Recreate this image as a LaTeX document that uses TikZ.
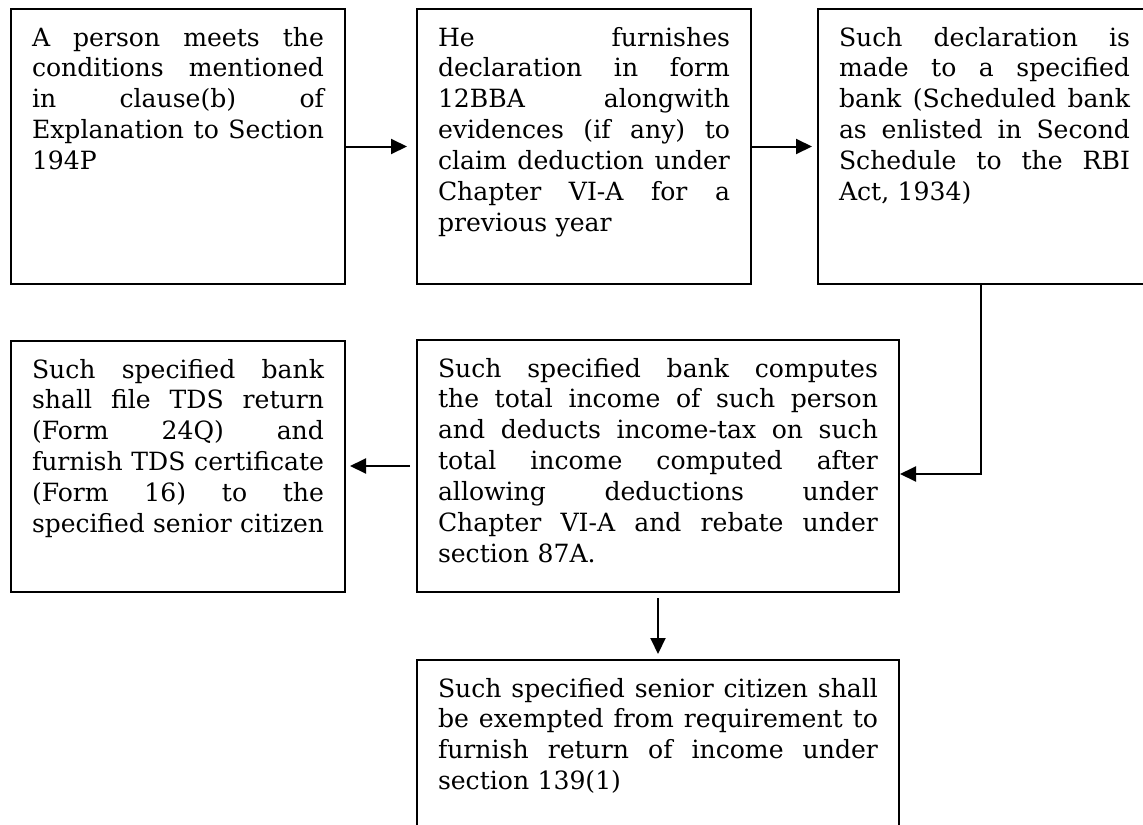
\documentclass[tikz,border=0pt]{standalone}
\usepackage{fontspec}
\setmainfont{DejaVu Serif}
\usepackage{graphicx}
\usetikzlibrary{arrows.meta}
\newcommand{\bkfont}{\fontsize{25.2}{31.1}\selectfont}
\newlength\jlw
\newlength\boxtw
\newcommand{\jl}[1]{\leavevmode\settowidth{\jlw}{#1}\ifdim\jlw>\boxtw\resizebox{\boxtw}{\height}{#1}\else\hbox to \boxtw{\spaceskip=.3333em plus 1fil\relax #1}\fi}
\newcommand{\lastl}[1]{\leavevmode\settowidth{\jlw}{#1}\ifdim\jlw>\boxtw\resizebox{\boxtw}{\height}{#1}\else#1\fi}
\tikzset{
  flowbox/.style={draw, line width=2bp, inner xsep=21bp, inner ysep=0pt,
    anchor=north west, align=left, font=\bkfont, text height=37bp,
    text width=#1, execute at begin node={\setlength{\boxtw}{#1}}},
  flowarr/.style={line width=2bp, -{Triangle[length=16bp,width=15bp]}}
}
\begin{document}
\begin{tikzpicture}[x=1bp,y=-1bp]
\useasboundingbox (0,0) rectangle (1143,825);
\clip (0,0) rectangle (1143,825);
\node[flowbox=292bp, text depth=238bp] (b1) at (10,8) {%
\jl{A person meets the}\\
\jl{conditions mentioned}\\
\jl{in clause(b) of}\\
\jl{Explanation to Section}\\
\lastl{194P}};
\node[flowbox=292bp, text depth=238bp] (b2) at (416,8) {%
\jl{He furnishes}\\
\jl{declaration in form}\\
\jl{12BBA alongwith}\\
\jl{evidences (if any) to}\\
\jl{claim deduction under}\\
\jl{Chapter VI-A for a}\\
\lastl{previous year}};
\node[flowbox=291bp, text depth=238bp] (b3) at (817,8) {%
\jl{Such declaration is}\\
\jl{made to a specified}\\
\jl{bank (Scheduled bank}\\
\jl{as enlisted in Second}\\
\jl{Schedule to the RBI}\\
\lastl{Act, 1934)}};
\node[flowbox=292bp, text depth=214bp] (b4) at (10,340) {%
\jl{Such specified bank}\\
\jl{shall file TDS return}\\
\jl{(Form 24Q) and}\\
\jl{furnish TDS certificate}\\
\jl{(Form 16) to the}\\
\lastl{specified senior citizen}};
\node[flowbox=440bp, text depth=215bp] (b5) at (416,339) {%
\jl{Such specified bank computes}\\
\jl{the total income of such person}\\
\jl{and deducts income-tax on such}\\
\jl{total income computed after}\\
\jl{allowing deductions under}\\
\jl{Chapter VI-A and rebate under}\\
\lastl{section 87A.}};
\node[flowbox=440bp, text depth=217bp] (b6) at (416,659) {%
\jl{Such specified senior citizen shall}\\
\jl{be exempted from requirement to}\\
\jl{furnish return of income under}\\
\lastl{section 139(1)}};
\draw[flowarr, shorten >=9bp] (b1.east) -- (b1.east -| b2.west);
\draw[flowarr, shorten >=5bp] (b2.east) -- (b2.east -| b3.west);
\draw[flowarr] ([xshift=-3.5bp]b3.south) |- ([yshift=-8bp]b5.east);
\draw[flowarr, shorten <=6bp, shorten >=4bp] (b5.west) -- (b5.west -| b4.east);
\draw[flowarr, shorten <=5bp, shorten >=5bp] (b5.south) -- (b6.north);
\end{tikzpicture}
\end{document}
